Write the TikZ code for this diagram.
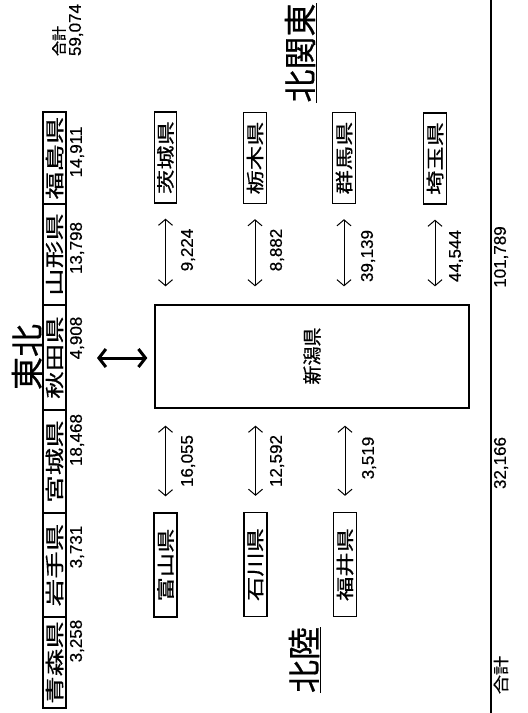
\documentclass[tikz,border=0pt]{standalone}
\usepackage{fontspec}
\usepackage{graphicx}
\newfontfamily\jpfam[FakeBold=0.6]{Noto Sans CJK JP}
\newfontfamily\numfam[FakeBold=0.5]{Liberation Sans}
\usetikzlibrary{arrows.meta}
\newcommand{\tabname}[1]{\scalebox{1.45}[1]{#1}}
\newcommand{\sidename}[1]{\scalebox{1.35}[1]{#1}}
\newcommand{\sumname}[1]{\scalebox{1.2}[1]{#1}}
\tikzset{
  cellbox/.style={draw, line width=1.3pt, rotate=90, minimum height=23pt, inner sep=0pt,
    font=\fontsize{19pt}{19pt}\selectfont\jpfam},
  sidebox/.style={draw, line width=1.3pt, rotate=90, minimum width=91pt, minimum height=23pt, inner sep=0pt,
    font=\fontsize{18pt}{18pt}\selectfont\jpfam},
  numtext/.style={rotate=90, inner sep=0pt, font=\fontsize{17pt}{17pt}\selectfont\numfam},
  jptext/.style={rotate=90, inner sep=0pt, font=\fontsize{19pt}{19pt}\selectfont\jpfam},
  bigjp/.style={rotate=90, inner sep=0pt, font=\fontsize{33pt}{33pt}\selectfont\jpfam},
  dblarrow/.style={line width=1pt, {Straight Barb[length=6pt,width=14pt]}-{Straight Barb[length=6pt,width=14pt]}},
  bigarrow/.style={line width=3pt, {Straight Barb[length=7pt,width=18pt]}-{Straight Barb[length=7pt,width=18pt]}},
  rule/.style={line width=1.8pt}
}
\begin{document}
\begin{tikzpicture}[x=1pt,y=-1pt]
\useasboundingbox[fill=white] (0,0) rectangle (528,713);

% Tohoku table
\node[cellbox, minimum width=92pt]  (fukushima) at (54.5,158)   {\tabname{福島県}};
\node[cellbox, minimum width=101pt] (yamagata)  at (54.5,254.5) {\tabname{山形県}};
\node[cellbox, minimum width=105pt] (akita)     at (54.5,357.5) {\tabname{秋田県}};
\node[cellbox, minimum width=103pt] (miyagi)    at (54.5,461.5) {\tabname{宮城県}};
\node[cellbox, minimum width=104pt] (iwate)     at (54.5,565)   {\tabname{岩手県}};
\node[cellbox, minimum width=91pt]  (aomori)    at (54.5,662.5) {\tabname{青森県}};

\node[numtext] (nfukushima) at (77,152) {14,911};
\node[numtext] (nyamagata)  at (77,248) {13,798};
\node[numtext] (nakita)     at (77,338) {4,908};
\node[numtext] (nmiyagi)    at (77,440) {18,468};
\node[numtext] (niwate)     at (77,547) {3,731};
\node[numtext] (naomori)    at (77,641) {3,258};

% totals top
\node[jptext, font=\fontsize{15pt}{15pt}\selectfont\jpfam] (gokei1) at (59,41) {合計};
\node[numtext] (ngokei1) at (76,30) {59,074};

% region labels
\node[bigjp] (tohoku) at (27,357) {東北};
\node[bigjp] (kitakanto) at (300,53) {北関東};
\node[bigjp] (hokuriku) at (304,660) {北陸};
\draw[line width=1.6pt] ([xshift=1pt]kitakanto.south west) -- ([xshift=1pt]kitakanto.south east);
\draw[line width=1.6pt] ([xshift=1pt]hokuriku.south west) -- ([xshift=1pt]hokuriku.south east);

% Niigata
\node[draw, line width=1.3pt, rotate=90, minimum width=103pt, minimum height=314pt, inner sep=0pt] (niigata) at (312,356.5) {};
\node[jptext] (niigatatext) at (312,356) {新潟県};

% Kita-Kanto boxes
\node[sidebox, minimum height=22pt] (ibaraki) at (165.5,157.5) {\sidename{茨城県}};
\node[sidebox] (tochigi) at (255,158) {\sidename{栃木県}};
\node[sidebox] (gunma)   at (344,158) {\sidename{群馬県}};
\node[sidebox] (saitama) at (435,158.5) {\sidename{埼玉県}};

% Hokuriku boxes
\node[sidebox, minimum width=104pt] (toyama)   at (165.5,565) {\sidename{富山県}};
\node[sidebox, minimum width=104pt] (ishikawa) at (255.5,564.5) {\sidename{石川県}};
\node[sidebox, minimum width=104pt] (fukui)    at (345,564.5) {\sidename{福井県}};

% arrows right side
\draw[dblarrow, shorten <=15pt, shorten >=18pt] (ibaraki.west) -- (ibaraki.west |- niigata.east);
\draw[dblarrow, shorten <=15pt, shorten >=18pt] (tochigi.west) -- (tochigi.west |- niigata.east);
\draw[dblarrow, shorten <=15pt, shorten >=18pt] (gunma.west) -- (gunma.west |- niigata.east);
\draw[dblarrow, shorten <=15pt, shorten >=18pt] (saitama.west) -- (saitama.west |- niigata.east);
% arrows left side
\draw[dblarrow, shorten <=16pt, shorten >=17pt] (toyama.east) -- (toyama.east |- niigata.west);
\draw[dblarrow, shorten <=16pt, shorten >=17pt] (ishikawa.east) -- (ishikawa.east |- niigata.west);
\draw[dblarrow, shorten <=16pt, shorten >=17pt] (fukui.east) -- (fukui.east |- niigata.west);

% arrow labels
\node[numtext] (v1) at (188,250) {9,224};
\node[numtext] (v2) at (277,250) {8,882};
\node[numtext] (v3) at (368,256) {39,139};
\node[numtext] (v4) at (456,256) {44,544};
\node[numtext] (v5) at (188,461) {16,055};
\node[numtext] (v6) at (277,461) {12,592};
\node[numtext] (v7) at (369,458) {3,519};

% thick arrow Tohoku <-> Niigata
\coordinate (tstart) at (97,358);
\draw[bigarrow, shorten >=7pt] (tstart) -- (tstart -| niigata.north);

% bottom total line
\coordinate (lt) at (491,0);
\coordinate (lb) at (491,713);
\draw[rule] (lt) -- (lb);
\node[numtext] (tot1) at (501,257) {101,789};
\node[numtext] (tot2) at (501,463) {32,166};
\node[jptext, font=\fontsize{16pt}{16pt}\selectfont\jpfam] (gokei2) at (501,675) {\sumname{合計}};
\end{tikzpicture}
\end{document}
